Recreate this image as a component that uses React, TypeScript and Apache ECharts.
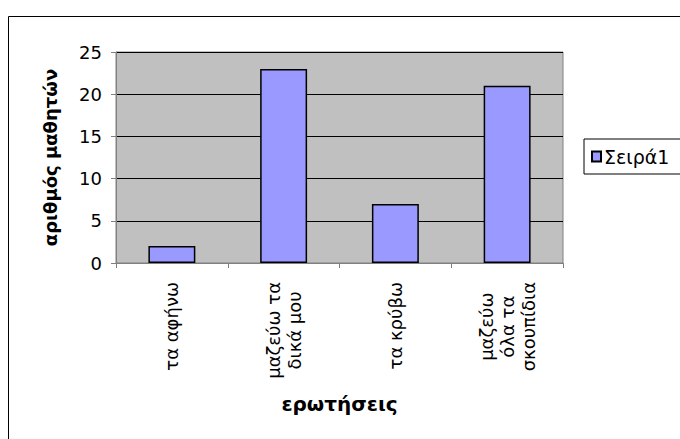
import React, { useEffect, useRef } from "react";
import * as echarts from "echarts";

const categories = ["τα αφήνω", "μαζεύω τα\nδικά μου", "τα κρύβω", "μαζεύω\nόλα τα\nσκουπίδια"];
const values = [2, 23, 7, 21];
const seriesName = "Σειρά1";
const yAxisName = "αριθμός μαθητών";
const xAxisName = "ερωτήσεις";

export default function App() {
  const ref = useRef<HTMLDivElement>(null);
  useEffect(() => {
    document.body.style.margin = "0";
    const chart = echarts.init(ref.current!, null, { renderer: "svg" });
    const font = "'DejaVu Sans', Verdana, sans-serif";
    chart.setOption({
      animation: false,
      textStyle: { fontFamily: font },
      graphic: [
        {
          type: "rect",
          shape: { x: 8.5, y: 16.5, width: 720, height: 460 },
          style: { fill: "none", stroke: "#000", lineWidth: 1 },
          z: -10,
        },
      ],
      grid: {
        left: 116,
        top: 52,
        right: 117,
        bottom: 176,
        show: true,
        backgroundColor: "#C0C0C0",
        borderColor: "#808080",
        borderWidth: 1,
      },
      legend: {
        left: 584,
        top: 139,
        orient: "vertical",
        padding: [8, 40, 8, 7],
        borderColor: "#000",
        borderWidth: 1,
        itemWidth: 9,
        itemHeight: 10,
        itemGap: 5,
        icon: "rect",
        textStyle: { fontSize: 19, color: "#000", fontFamily: font, padding: [0, 0, 0, -2] },
        data: [seriesName],
      },
      xAxis: {
        type: "category",
        data: categories,
        name: xAxisName,
        nameLocation: "middle",
        nameGap: 131,
        nameTextStyle: { fontSize: 20, fontWeight: "bold", color: "#000", fontFamily: font },
        axisLine: { show: true, lineStyle: { color: "#808080", width: 1 } },
        axisTick: { show: true, alignWithLabel: false, length: 5, lineStyle: { color: "#808080" } },
        axisLabel: {
          rotate: 90,
          interval: 0,
          margin: 19,
          fontSize: 18,
          color: "#000",
          lineHeight: 21,
          fontFamily: font,
          formatter: (v: string) =>
            v
              .split("\n")
              .map((l) => "{c|" + l + "}")
              .join("\n"),
          rich: {
            c: { align: "center", fontSize: 18, lineHeight: 21, color: "#000", fontFamily: font },
          },
        },
        splitLine: { show: false },
      },
      yAxis: {
        type: "value",
        min: 0,
        max: 25,
        interval: 5,
        name: yAxisName,
        nameLocation: "middle",
        nameGap: 57,
        nameTextStyle: { fontSize: 18, fontWeight: "bold", color: "#000", fontFamily: font },
        axisLine: { show: true, lineStyle: { color: "#808080", width: 1 } },
        axisTick: { show: true, length: 5, lineStyle: { color: "#808080" } },
        axisLabel: { fontSize: 18, color: "#000", margin: 14, fontFamily: font },
        splitLine: { show: true, lineStyle: { color: "#000", width: 1 } },
      },
      series: [
        {
          name: seriesName,
          type: "bar",
          data: values,
          barWidth: "42%",
          itemStyle: { color: "#9999FF", borderColor: "#000", borderWidth: 1.5 },
        },
      ],
    });
    return () => chart.dispose();
  }, []);
  return <div ref={ref} style={{ width: 680, height: 439 }} />;
}
